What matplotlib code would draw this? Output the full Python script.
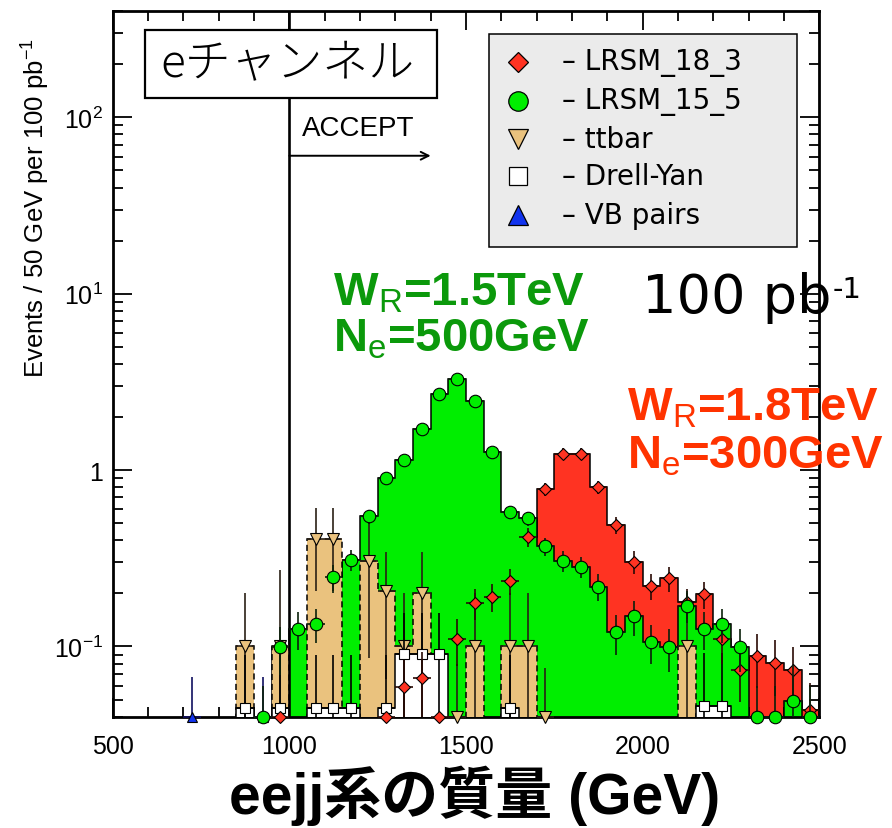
import numpy as np
import matplotlib
matplotlib.use("Agg")
import matplotlib.pyplot as plt
from matplotlib.patches import Rectangle
from matplotlib.lines import Line2D
from matplotlib.ticker import MultipleLocator, LogLocator, NullFormatter
import matplotlib.transforms as mtransforms

plt.rcParams["font.family"] = ["Liberation Sans", "DejaVu Sans"]
plt.rcParams["mathtext.fontset"] = "custom"
plt.rcParams["mathtext.rm"] = "Liberation Sans"
plt.rcParams["mathtext.it"] = "Liberation Sans:italic"
plt.rcParams["mathtext.bf"] = "Liberation Sans:bold"

# ---- binning: 50 GeV bins from 500 to 2500 GeV ----
edges = np.arange(500, 2501, 50)
centers = 0.5 * (edges[:-1] + edges[1:])

# ---- event counts per bin (100 pb^-1) and statistical errors ----
lrsm_18_3 = [0, 0, 0, 0, 0, 0, 0, 0, 0, 0.01,
             0, 0, 0, 0, 0, 0.01, 0.0585, 0.0659, 0.01, 0.11,
             0.176, 0.191, 0.236, 0.418, 0.78, 1.24, 1.24, 0.80, 0.488, 0.303,
             0.221, 0.243, 0.178, 0.198, 0.11, 0.0737, 0.0878, 0.0804, 0.0737, 0.0437]
lrsm_18_3_err = [0, 0, 0, 0, 0, 0, 0, 0, 0, 0.01,
                 0, 0, 0, 0, 0, 0.01, 0.025, 0.027, 0.01, 0.033,
                 0.035, 0.035, 0.04, 0.05, 0.07, 0.09, 0.09, 0.07, 0.055, 0.045,
                 0.037, 0.04, 0.035, 0.035, 0.03, 0.025, 0.03, 0.028, 0.025, 0.018]

lrsm_15_5 = [0, 0, 0, 0, 0, 0, 0, 0, 0.015, 0.0987,
             0.126, 0.134, 0.246, 0.31, 0.546, 0.897, 1.14, 1.72, 2.70, 3.28,
             2.45, 1.26, 0.575, 0.532, 0.369, 0.306, 0.283, 0.218, 0.120, 0.148,
             0.106, 0.0987, 0.170, 0.126, 0.134, 0.0987, 0.015, 0.015, 0.0488, 0.015]
lrsm_15_5_err = [0, 0, 0, 0, 0, 0, 0, 0, 0.045, 0.03,
                 0.03, 0.03, 0.044, 0.043, 0.05, 0.06, 0.07, 0.08, 0.1, 0.11,
                 0.095, 0.07, 0.05, 0.048, 0.042, 0.04, 0.04, 0.038, 0.03, 0.033,
                 0.027, 0.027, 0.035, 0.03, 0.03, 0.027, 0.045, 0.045, 0.03, 0.045]

ttbar = [0, 0, 0, 0, 0, 0, 0, 0.1008, 0, 0.1008,
         0, 0.406, 0.406, 0, 0.306, 0.205, 0.1008, 0.202, 0, 0.02,
         0.1008, 0, 0.1008, 0.1008, 0.02, 0, 0, 0, 0, 0,
         0, 0, 0.1008, 0, 0, 0, 0, 0, 0, 0]
ttbar_err = [0, 0, 0, 0, 0, 0, 0, 0.1, 0, 0.17,
             0, 0.2, 0.2, 0, 0.22, 0.14, 0.1, 0.14, 0, 0.06,
             0.1, 0, 0.1, 0.1, 0.055, 0, 0, 0, 0, 0,
             0, 0, 0.1, 0, 0, 0, 0, 0, 0, 0]

drell_yan = [0, 0, 0, 0, 0, 0, 0, 0.045, 0, 0.045,
             0, 0.045, 0.045, 0.045, 0, 0.045, 0.0904, 0.0904, 0.0904, 0,
             0, 0, 0.045, 0, 0, 0, 0, 0, 0, 0,
             0, 0, 0, 0.046, 0.046, 0, 0, 0, 0, 0]
drell_yan_err = [0, 0, 0, 0, 0, 0, 0, 0.045, 0, 0.045,
                 0, 0.045, 0.045, 0.045, 0, 0.045, 0.064, 0.064, 0.064, 0,
                 0, 0, 0.045, 0, 0, 0, 0, 0, 0, 0,
                 0, 0, 0, 0.046, 0.046, 0, 0, 0, 0, 0]

vb_pairs = [0, 0, 0, 0, 0.0335, 0, 0, 0, 0.0335, 0] + [0] * 30
vb_pairs_err = [0, 0, 0, 0, 0.0335, 0, 0, 0, 0.0335, 0] + [0] * 30

series_names = ["LRSM_18_3", "LRSM_15_5", "ttbar", "Drell-Yan", "VB pairs"]
x_ticks = [500, 1000, 1500, 2000, 2500]
y_ticks = [0.1, 1, 10, 100]
y_ticklabels = [r"$\mathregular{10^{-1}}$", "1", r"$\mathregular{10^{1}}$", r"$\mathregular{10^{2}}$"]
mass_cut = 1000
arrow_end = 1400

# ---- style ----
RED = "#FF3322"
GREEN = "#00EE00"
TAN = "#EAC27E"
BLUE = "#1133EE"
YMIN, YMAX = 0.0398, 401.0
FLOOR = 1e-5

fig = plt.figure(figsize=(8.92, 8.29), dpi=100)
ax = fig.add_axes([0.1263, 0.1339, 0.7922, 0.8516])
ax.set_yscale("log")
ax.set_xlim(500, 2500)
ax.set_ylim(YMIN, YMAX)


def draw_hist(vals, face, ls="-", z=1.0):
    v = np.asarray(vals, float)
    vv = np.where(v > 0, v, FLOOR)
    ax.stairs(vv, edges, baseline=FLOOR, fill=True, facecolor=face,
              edgecolor="none", zorder=z)
    ax.stairs(vv, edges, baseline=FLOOR, fill=False, color="k", lw=1.1,
              ls=ls, zorder=z + 0.05)


def draw_points(vals, errs, marker, face, ms, ecol="k", z=6.0):
    v = np.asarray(vals, float)
    e = np.asarray(errs, float)
    m = v > 0
    x = centers[m]
    y = np.maximum(v[m], YMIN)
    lo = np.clip(v[m] - e[m], YMIN, None)
    hi = np.clip(v[m] + e[m], YMIN, None)
    ax.errorbar(x, y, xerr=25, yerr=[y - lo, hi - y], fmt="none",
                ecolor=ecol, elinewidth=1.2, capsize=0, zorder=z, clip_on=False)
    ax.plot(x, y, ls="none", marker=marker, ms=ms, mfc=face, mec="k",
            mew=0.8, zorder=z + 0.1, clip_on=False)


# filled histograms
draw_hist(lrsm_18_3, RED, z=1.0)
draw_hist(lrsm_15_5, GREEN, z=2.0)
draw_hist(ttbar, TAN, ls=(0, (4, 2.5)), z=3.0)
draw_hist(drell_yan, "white", z=4.0)

# acceptance cut
ax.axvline(mass_cut, color="k", lw=1.9, zorder=5)
blend = mtransforms.blended_transform_factory(ax.transData, ax.transAxes)
ax.annotate("", xy=(arrow_end, 0.795), xytext=(mass_cut, 0.795),
            xycoords=blend, textcoords=blend,
            arrowprops=dict(arrowstyle="->", lw=1.4, color="k",
                            mutation_scale=14, shrinkA=0, shrinkB=0), zorder=5)
ax.text(mass_cut + 37, 0.834, "ACCEPT", transform=blend, fontsize=20,
        ha="left", va="center", zorder=5)

# points with error bars
draw_points(ttbar, ttbar_err, "v", TAN, 8.5, ecol="#2a2015", z=6.0)
draw_points(drell_yan, drell_yan_err, "s", "white", 7.5, z=6.2)
draw_points(vb_pairs, vb_pairs_err, "^", BLUE, 7.5, ecol="#101060", z=6.4)
draw_points(lrsm_18_3, lrsm_18_3_err, "D", RED, 6.0, ecol="#2a0a05", z=6.6)
draw_points(lrsm_15_5, lrsm_15_5_err, "o", GREEN, 9.0, ecol="#0a200a", z=6.8)

# axes styling
for sp in ax.spines.values():
    sp.set_linewidth(2.0)
ax.xaxis.set_major_locator(MultipleLocator(500))
ax.xaxis.set_minor_locator(MultipleLocator(100))
ax.set_xticks(x_ticks)
ax.set_yticks(y_ticks)
ax.set_yticklabels(y_ticklabels)
ax.yaxis.set_minor_locator(LogLocator(base=10, subs=np.arange(2, 10)))
ax.yaxis.set_minor_formatter(NullFormatter())
ax.tick_params(which="both", direction="in", top=True, right=True, width=1.3)
ax.tick_params(which="major", length=14, labelsize=18)
ax.tick_params(which="minor", length=7)
ax.tick_params(axis="x", which="major", pad=12)
ax.tick_params(axis="y", which="major", pad=7)

fig.text(0.0404, 0.749, "Events / 50 GeV per 100 pb$^{-1}$", rotation=90,
         ha="center", va="center", fontsize=18.5)
fig.text(0.5325, 0.018, "eejj系の質量 (GeV)", ha="center", va="baseline",
         fontsize=41, fontweight="bold",
         family=["Liberation Sans", "Noto Sans CJK JP"])

# channel box
ax.add_patch(Rectangle((0.0457, 0.8763), 0.4137, 0.0968, transform=ax.transAxes,
                       facecolor="white", edgecolor="k", lw=1.6, zorder=10))
ax.text(0.2474, 0.925, "eチャンネル", transform=ax.transAxes, ha="center",
        va="center", fontsize=33, fontweight="light",
        family=["Noto Sans CJK JP", "DejaVu Sans"], zorder=11)

# legend
ax.add_patch(Rectangle((0.533, 0.6653), 0.435, 0.3021, transform=ax.transAxes,
                       facecolor="#EBEBEB", edgecolor="k", lw=1.1, zorder=10))
leg_style = [("D", RED, 10), ("o", GREEN, 14), ("v", TAN, 14),
             ("s", "white", 13), ("^", BLUE, 14)]
leg_rows = [0.9273, 0.8729, 0.8187, 0.7658, 0.711]
for name, (mk, fc, ms), yr in zip(series_names, leg_style, leg_rows):
    ax.add_line(Line2D([0.5736], [yr], transform=ax.transAxes, ls="none",
                       marker=mk, ms=ms, mfc=fc, mec="k", mew=0.9, zorder=11))
    ax.text(0.6354, yr, "– " + name, transform=ax.transAxes, ha="left",
            va="center", fontsize=20, family="DejaVu Sans", zorder=11)

# annotations
ax.text(0.3122, 0.585, r"W$_\mathrm{R}$=1.5TeV", transform=ax.transAxes,
        fontsize=34, fontweight="bold", color="#0B990B", ha="left", va="baseline")
ax.text(0.3122, 0.5188, r"N$_\mathrm{e}$=500GeV", transform=ax.transAxes,
        fontsize=34, fontweight="bold", color="#0B990B", ha="left", va="baseline")
ax.text(0.7274, 0.4221, r"W$_\mathrm{R}$=1.8TeV", transform=ax.transAxes,
        fontsize=34, fontweight="bold", color="#FF3300", ha="left", va="baseline")
ax.text(0.7274, 0.3537, r"N$_\mathrm{e}$=300GeV", transform=ax.transAxes,
        fontsize=34, fontweight="bold", color="#FF3300", ha="left", va="baseline")
lumi = ax.text(0.7493, 0.5737, "100 pb", transform=ax.transAxes,
               fontsize=39, family="DejaVu Sans", ha="left", va="baseline",
               zorder=11)
ax.annotate("-1", xy=(1.0, 0.0), xycoords=lumi, xytext=(1, 19),
            textcoords="offset points", fontsize=21, family="DejaVu Sans",
            ha="left", va="baseline", zorder=11)

fig.savefig("out.png", dpi=100)
